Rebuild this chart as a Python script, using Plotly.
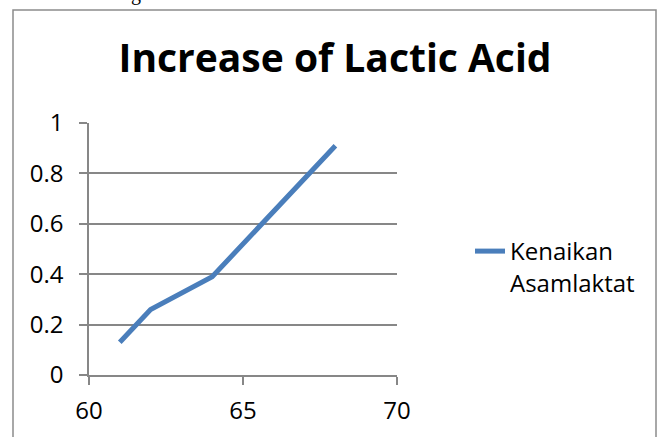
import plotly.graph_objects as go

# Series: temperature (x) vs. increase of lactic acid (y)
temperature = [61, 62, 64, 68]
lactic_increase = [0.13, 0.26, 0.39, 0.91]
series_name = "Kenaikan<br>Asamlaktat"
chart_title = "Increase of Lactic Acid"

x_ticks = [60, 65, 70]
y_ticks = [0, 0.2, 0.4, 0.6, 0.8, 1]
y_tick_text = ["0", "0.2", "0.4", "0.6", "0.8", "1"]

W, H = 660, 437
L, R, T, B = 89, 263, 123, 62
pw, ph = W - L - R, H - T - B

def px_x(px):
    return (px - L) / pw

def px_y(py):
    return (H - B - py) / ph

FONT = "Open Sans, Carlito, Calibri, sans-serif"
GRID = "#878787"
TXT = 24

fig = go.Figure()
fig.add_trace(go.Scatter(
    x=temperature, y=lactic_increase, mode="lines", name=series_name,
    line=dict(color="#4a7ebb", width=5),
    showlegend=True,
))

fig.update_layout(
    width=W, height=H,
    margin=dict(l=L, r=R, t=T, b=B, pad=0),
    paper_bgcolor="white", plot_bgcolor="white",
    font=dict(family=FONT, size=TXT, color="#000000"),
    title=dict(text="<b>" + chart_title + "</b>", x=335 / W, xanchor="center",
               y=1 - 58 / H, yanchor="middle", xref="container", yref="container",
               font=dict(family=FONT, size=39, color="#000000")),
    xaxis=dict(range=[60, 70], tickvals=x_ticks, ticktext=[str(v) for v in x_ticks],
               showgrid=False, zeroline=False, showline=True, linecolor=GRID, linewidth=1.5,
               ticks="outside", ticklen=8, tickwidth=1.5, tickcolor=GRID,
               ticklabelstandoff=5, tickfont=dict(family=FONT, size=TXT)),
    yaxis=dict(range=[0, 1], tickvals=y_ticks, ticktext=y_tick_text,
               showgrid=True, gridcolor=GRID, gridwidth=1.5, zeroline=False,
               showline=True, linecolor=GRID, linewidth=1.5,
               ticks="outside", ticklen=8, tickwidth=1.5, tickcolor=GRID,
               ticklabelstandoff=11, tickfont=dict(family=FONT, size=TXT)),
    legend=dict(x=px_x(470), y=px_y(229), xanchor="left", yanchor="top",
                valign="top", bgcolor="rgba(0,0,0,0)", borderwidth=0,
                font=dict(family=FONT, size=TXT)),
    showlegend=True,
)

# Chart frame
fig.add_shape(type="rect", xref="paper", yref="paper",
              x0=px_x(13), x1=px_x(656), y0=px_y(445), y1=px_y(10),
              line=dict(color="#8c8c8c", width=1.5), fillcolor="rgba(0,0,0,0)",
              layer="below")

# Descender of the caption line above the chart
fig.add_annotation(text="g", xref="paper", yref="paper",
                   x=px_x(136), y=px_y(-7), xanchor="center", yanchor="middle",
                   showarrow=False, font=dict(family="Liberation Serif", size=20, color="#000"))

fig.write_html("out.html")
